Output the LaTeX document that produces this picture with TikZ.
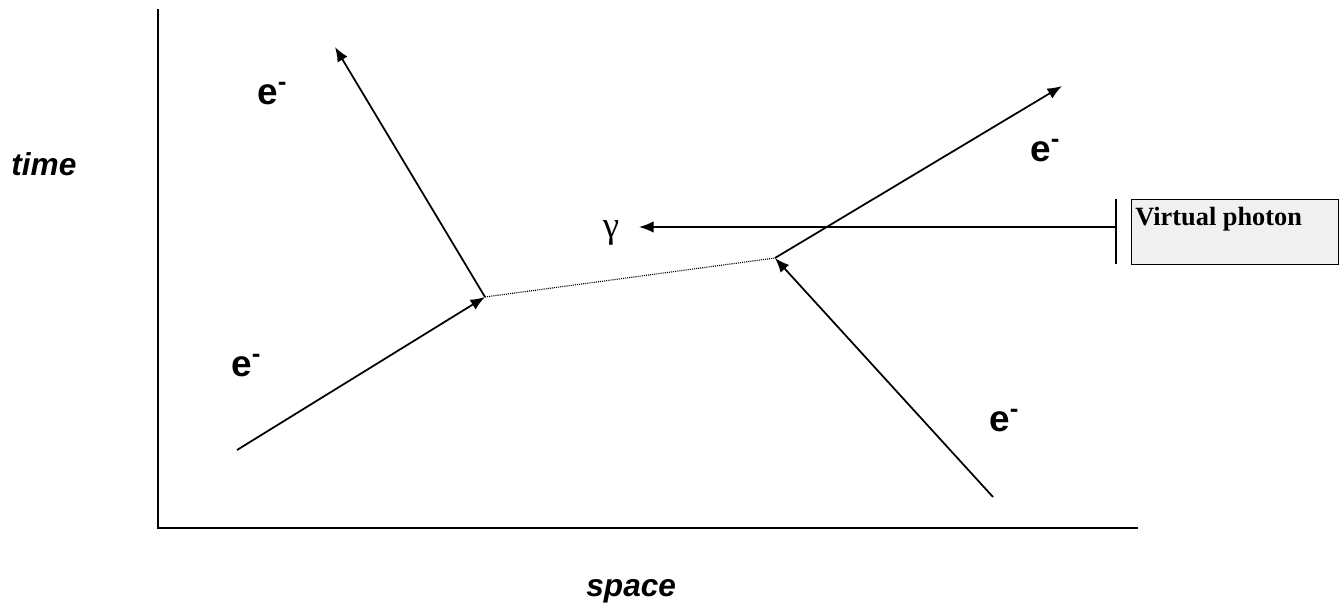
\documentclass[tikz,border=0pt]{standalone}
\usepackage{fontspec}
\setmainfont{Liberation Serif}
\setsansfont{Liberation Sans}
\usetikzlibrary{arrows.meta}
\definecolor{boxgray}{RGB}{240,240,240}

\newcommand{\elec}{e\textsuperscript{-}}

\tikzset{
  axisline/.style={line width=1.4pt},
  path/.style={line width=1pt, -{Latex[length=2.9mm, width=2.3mm]}},
  exchange/.style={line width=0.65pt, dash pattern=on 0.6pt off 0.6pt},
  elabel/.style={anchor=base west, inner sep=0pt, font=\sffamily\bfseries\fontsize{21}{21}\selectfont},
  axislabel/.style={anchor=base west, inner sep=0pt, font=\sffamily\bfseries\itshape\fontsize{18}{18}\selectfont}
}

\begin{document}
\begin{tikzpicture}[x=0.02cm, y=-0.02cm]

\useasboundingbox (0,0) rectangle (1340,605);

% Axes
\coordinate (origin) at (158,528);
\coordinate (ytop) at (158,9);
\coordinate (xend) at (1138,528);
\draw[axisline] (ytop) -- (origin) -- (xend);

% Axis labels
\node[axislabel] (time) at (11,175) {time};
\node[axislabel] (space) at (586,596) {space};

% Vertices
\coordinate (v1) at (485,297);
\coordinate (v2) at (775,258);

% Electron lines
\coordinate (inA) at (237,450);
\coordinate (outA) at (335,47);
\coordinate (inB) at (993,497);
\coordinate (outB) at (1062,86);
\draw[path] (inA) -- (v1);
\draw[path] (v1) -- (outA);
\draw[path] (inB) -- (v2);
\draw[path] (v2) -- (outB);

% Photon exchange
\draw[exchange] (v1) -- (v2);

% Electron labels
\foreach \x/\y/\n in {257/104/eA, 1030/161/eB, 231/376/eC, 989/431/eD} {
    \node[elabel] (\n) at (\x,\y) {\elec};
}

% Callout
\node[draw, fill=boxgray, line width=0.8pt, minimum width=207*0.02cm, minimum height=65*0.02cm,
      anchor=north west, inner sep=0pt] (callout) at (1131,199) {};
\node[anchor=base west, inner sep=0pt, font=\bfseries\fontsize{15}{15}\selectfont]
      (calltext) at (1135,225) {Virtual photon};
\coordinate (bartop) at (1116,199);
\coordinate (barbot) at (1116,264);
\draw[line width=0.8pt] (bartop) -- (barbot);
\coordinate (barmid) at (1116,227);
\coordinate (gtip) at (639,227);
\draw[path] (barmid) -- (gtip);
\node[inner sep=0pt, font=\fontsize{21}{21}\selectfont] (gamma) at (611,233) {γ};

\end{tikzpicture}
\end{document}
